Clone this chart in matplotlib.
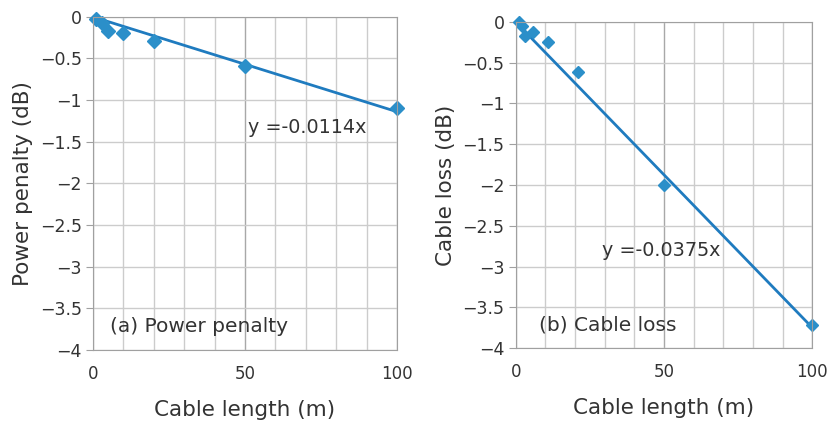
import numpy as np
import matplotlib
matplotlib.use("Agg")
import matplotlib.pyplot as plt

plt.rcParams['font.family'] = ['DejaVu Sans']

# (a) power penalty
len_a = [1, 3, 5, 10, 20, 50, 100]
pen_a = [-0.02, -0.07, -0.17, -0.19, -0.29, -0.59, -1.09]
slope_a = -0.0114

# (b) cable loss
len_b = [1, 2, 3, 6, 11, 21, 50, 100]
loss_b = [0.0, -0.05, -0.17, -0.12, -0.25, -0.61, -2.0, -3.72]
slope_b = -0.0375

yticks = [0, -0.5, -1, -1.5, -2, -2.5, -3, -3.5, -4]
ylabels = ['0', '\u22120.5', '\u22121', '\u22121.5', '\u22122', '\u22122.5',
           '\u22123', '\u22123.5', '\u22124']

blue = '#2b8fc9'
lineblue = '#1f7bbf'
txt = '#333333'

fig = plt.figure(figsize=(8.29, 4.21), dpi=100)
axA = fig.add_axes([0.112, 0.169, 0.367, 0.791])
axB = fig.add_axes([0.622, 0.173, 0.358, 0.775])


def style(ax, ylabel):
    ax.set_xlim(0, 100)
    ax.set_ylim(-4, 0)
    ax.set_xticks([0, 50, 100])
    ax.set_xticks(np.arange(0, 101, 10), minor=True)
    ax.set_yticks(yticks)
    ax.set_yticklabels(ylabels)
    ax.grid(True, which='minor', axis='x', color='#cccccc', lw=1)
    ax.grid(True, which='major', axis='x', color='#a8a8a8', lw=1)
    ax.grid(True, which='major', axis='y', color='#cccccc', lw=1)
    ax.set_axisbelow(True)
    for s in ax.spines.values():
        s.set_color('#a0a0a0')
    ax.tick_params(axis='y', length=5, color='#a0a0a0', labelsize=12.5,
                   labelcolor=txt, pad=3)
    ax.tick_params(axis='x', which='both', length=0, labelsize=12,
                   labelcolor=txt, pad=11)
    ax.set_xlabel('Cable length (m)', fontsize=15.5, color=txt, labelpad=12)
    ax.set_ylabel(ylabel, fontsize=15.5, color=txt, labelpad=5)


xs = np.array([0, 100])
axA.plot(xs, slope_a * xs, color=lineblue, lw=2)
axA.plot(len_a, pen_a, 'D', color=blue, ms=7, clip_on=False)
style(axA, 'Power penalty (dB)')
axA.text(51, -1.33, 'y =-0.0114x', fontsize=13.8, color=txt, va='center')
axA.text(5.5, -3.72, '(a) Power penalty', fontsize=14.5, color=txt, va='center')

axB.plot(xs, slope_b * xs, color=lineblue, lw=2)
axB.plot(len_b, loss_b, 'D', color=blue, ms=6, clip_on=False)
style(axB, 'Cable loss (dB)')
axB.text(29, -2.8, 'y =-0.0375x', fontsize=13.8, color=txt, va='center')
axB.text(8, -3.71, '(b) Cable loss', fontsize=14.5, color=txt, va='center')

fig.savefig('out.png', dpi=100)
